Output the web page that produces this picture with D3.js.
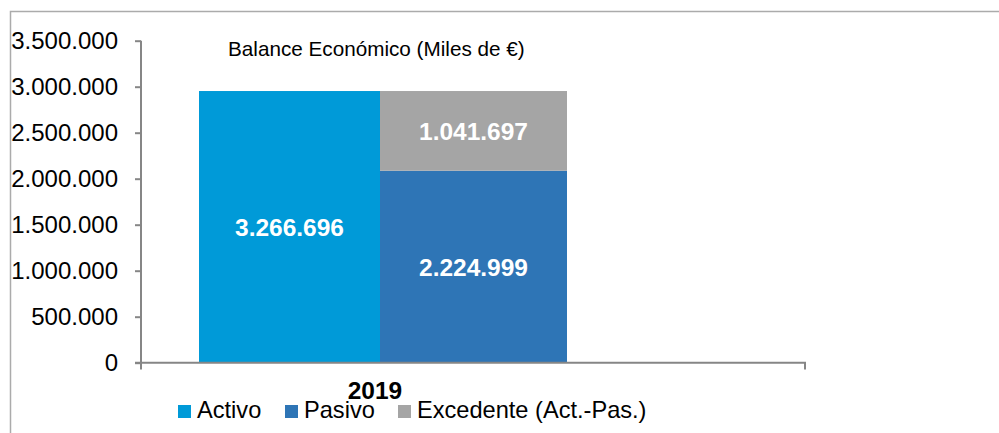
<!DOCTYPE html>
<html><head><meta charset="utf-8">
<script src="https://cdn.jsdelivr.net/npm/d3@7"></script>
<style>html,body{margin:0;padding:0;background:#fff;overflow:hidden}svg{display:block;font-family:"Liberation Sans",Arial,sans-serif}</style>
</head><body>
<svg id="c" width="999" height="433"></svg>
<script>
const categories = ["2019"];
const seriesNames = ["Activo", "Pasivo", "Excedente (Act.-Pas.)"];
const seriesColors = ["#009AD8", "#2E75B6", "#A5A5A5"];
const activo = [2953000];
const pasivo = [2087000];
const excedente = [866000];
const activoLabels = ["3.266.696"];
const pasivoLabels = ["2.224.999"];
const excedenteLabels = ["1.041.697"];
const yTicks = [0, 500000, 1000000, 1500000, 2000000, 2500000, 3000000, 3500000];
const title = "Balance Económico (Miles de €)";

const svg = d3.select("#c");
const loc = d3.formatLocale({decimal: ",", thousands: ".", grouping: [3], currency: ["", "€"]});
const fmt = loc.format(",d");

// frame
svg.append("path").attr("d", "M10.5,433 L10.5,11.5 L999,11.5")
  .attr("fill", "none").attr("stroke", "#ABABAB").attr("stroke-width", 1.5);

const y = d3.scaleLinear().domain([0, 3500000]).range([362.7, 40.7]);
const x = d3.scaleBand().domain(categories).range([193, 567]).padding(0);
const stacks = d3.scaleBand().domain(["a", "b"]).range([0, x.bandwidth()]).padding(0);

// y axis
const yAxis = d3.axisLeft(y).tickValues(yTicks).tickFormat(fmt).tickSize(6).tickSizeOuter(0).tickPadding(17);
const gy = svg.append("g").attr("transform", "translate(141,0)").call(yAxis);
gy.select(".domain").remove();
gy.selectAll(".tick line").attr("stroke", "#868686").attr("stroke-width", 2);
gy.selectAll(".tick text").attr("font-size", 24).attr("fill", "#000").attr("font-family", "Liberation Sans, Arial, sans-serif");
svg.append("line").attr("x1", 141).attr("x2", 141).attr("y1", y(3500000)).attr("y2", 369.5)
  .attr("stroke", "#868686").attr("stroke-width", 2);

// bars (Activo bar is partly overlapped on its left by plot gap: start at 199)
const activoLeft = 199;
categories.forEach((c, i) => {
  const x0 = x(c);
  const segs = [
    {x: activoLeft, w: x0 + stacks("b") - activoLeft, y0: 0, y1: activo[i], color: seriesColors[0], label: activoLabels[i]},
    {x: x0 + stacks("b"), w: stacks.bandwidth(), y0: 0, y1: pasivo[i], color: seriesColors[1], label: pasivoLabels[i]},
    {x: x0 + stacks("b"), w: stacks.bandwidth(), y0: pasivo[i], y1: pasivo[i] + excedente[i], color: seriesColors[2], label: excedenteLabels[i]}
  ];
  const g = svg.append("g");
  g.selectAll("rect").data(segs).join("rect")
    .attr("x", d => d.x).attr("width", d => d.w)
    .attr("y", d => y(d.y1)).attr("height", d => y(d.y0) - y(d.y1))
    .attr("fill", d => d.color);
  g.selectAll("text").data(segs).join("text")
    .attr("x", d => d.x + d.w / 2)
    .attr("y", d => (y(d.y0) + y(d.y1)) / 2)
    .attr("dy", "0.36em").attr("text-anchor", "middle")
    .attr("font-size", 24.5).attr("font-weight", "bold").attr("fill", "#fff")
    .text(d => d.label);
  svg.append("text").attr("x", 375).attr("y", 399)
    .attr("text-anchor", "middle").attr("font-size", 24.5).attr("font-weight", "bold")
    .attr("fill", "#000").text(c);
});

// x axis line
svg.append("line").attr("x1", 135).attr("x2", 806).attr("y1", 362.7).attr("y2", 362.7)
  .attr("stroke", "#868686").attr("stroke-width", 2);
svg.append("line").attr("x1", 805).attr("x2", 805).attr("y1", 362).attr("y2", 369.5)
  .attr("stroke", "#868686").attr("stroke-width", 2);

// title
svg.append("text").attr("x", 228).attr("y", 55.5).attr("font-size", 20.7).attr("fill", "#000").text(title);

// legend
const legX = [178, 285, 398];
const lg = svg.append("g").selectAll("g").data(seriesNames).join("g")
  .attr("transform", (d, i) => `translate(${legX[i]},0)`);
lg.append("rect").attr("x", 0).attr("y", 405).attr("width", 13).attr("height", 13)
  .attr("fill", (d, i) => seriesColors[i]);
lg.append("text").attr("x", 19).attr("y", 418).attr("font-size", 23.6).attr("fill", "#000").text(d => d);
</script>
</body></html>
